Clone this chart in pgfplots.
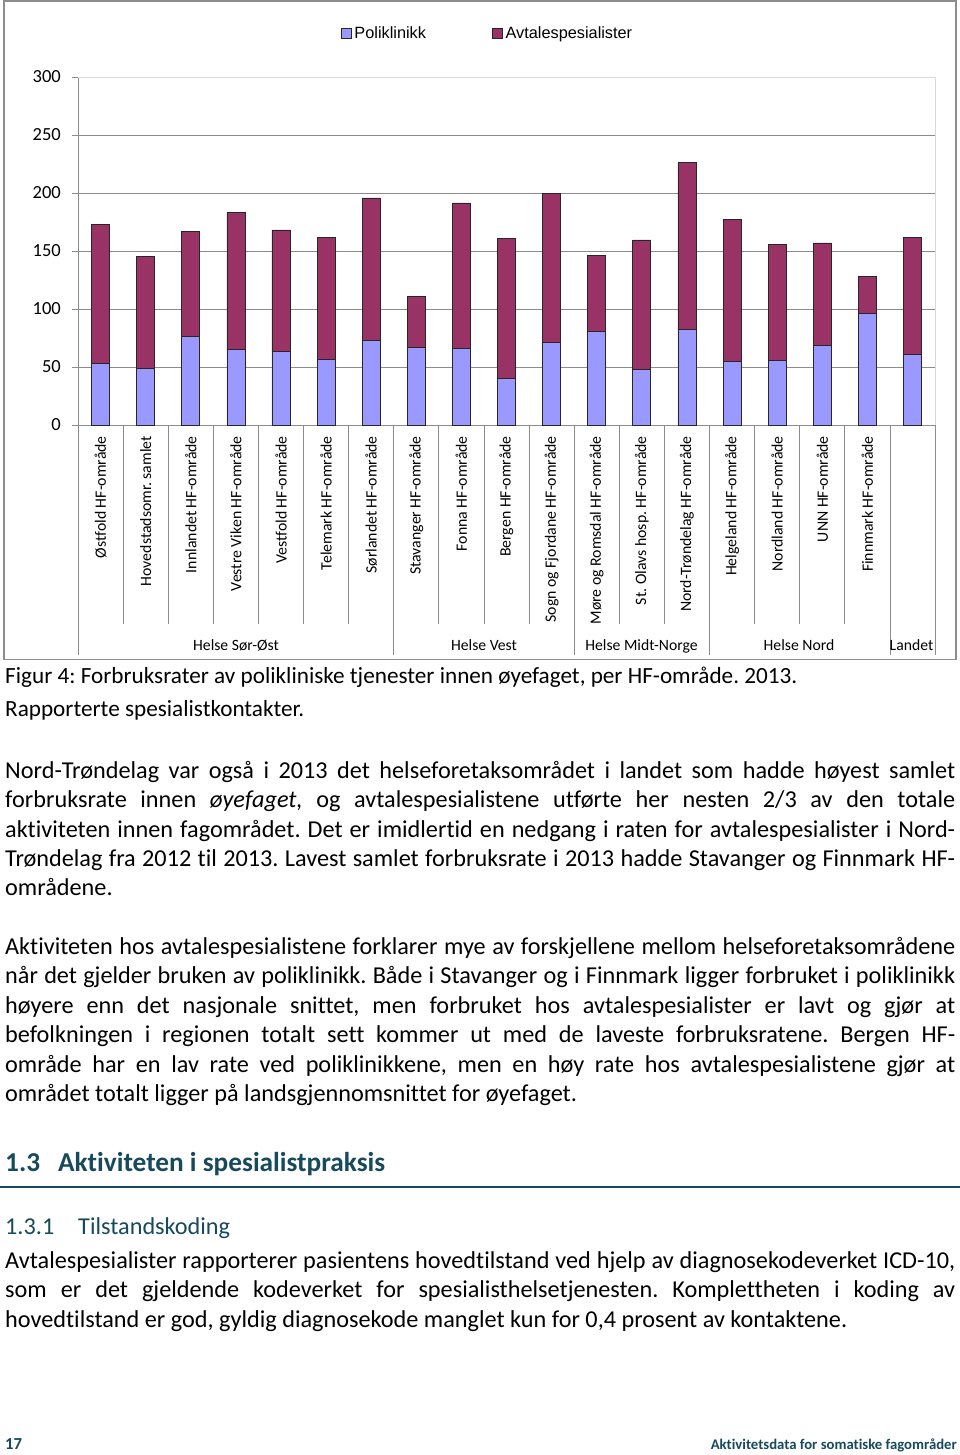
\documentclass[border=0pt]{standalone}
\usepackage{fontspec}
\setmainfont{Carlito}[Ligatures={NoCommon}]
\newfontfamily\arial{Liberation Sans}
\usepackage{pgfplots}
\pgfplotsset{compat=1.18}
\definecolor{poli}{HTML}{9999FF}
\definecolor{avt}{HTML}{993366}
\definecolor{headc}{HTML}{174A5C}
\definecolor{gridc}{HTML}{8C8C8C}
\newlength\tmpw
\newcommand\fitsize[3]{\settowidth\tmpw{#2\fontsize{10}{12}\selectfont #3}\pgfmathsetmacro\fsz{10*#1/\tmpw}}
\pgfplotstableread{
x poli avt
0 53.1 119.5
1 49.1 96.2
2 76.4 90.7
3 64.9 118.0
4 63.5 104.7
5 56.6 104.8
6 72.9 122.9
7 67.2 43.9
8 66.0 125.5
9 40.2 120.9
10 71.5 128.3
11 81.0 64.9
12 48.2 111.4
13 82.4 143.6
14 54.5 122.4
15 56.0 99.9
16 68.9 88.1
17 95.9 32.4
18 60.9 101.0
}\datatable
\begin{document}%
\frenchspacing%
\fitsize{842}{}{hovedtilstand er god, gyldig diagnosekode manglet kun for 0,4 prosent av kontaktene.}\let\bodysz\fsz%
\fitsize{792}{}{Figur 4: Forbruksrater av polikliniske tjenester innen øyefaget, per HF-område. 2013.}\let\capsz\fsz%
\fitsize{327}{\bfseries}{Aktiviteten i spesialistpraksis}\let\hsz\fsz%
\fitsize{152}{}{Tilstandskoding}\let\hhsz\fsz%
\fitsize{246}{\bfseries}{Aktivitetsdata for somatiske fagområder}\let\footsz\fsz%
\fitsize{17}{\bfseries}{17}\let\pagesz\fsz%
\newcommand\bodyfont{\fontsize{\bodysz}{\bodysz}\selectfont}%
\newcommand\capfont{\fontsize{\capsz}{\capsz}\selectfont}%
\newcommand\jline[2]{\node[font=\bodyfont,anchor=mid west,inner sep=0pt] at (5pt,-#1pt-6pt) {\makebox[950pt][s]{#2}};}%
\newcommand\lline[2]{\node[font=\bodyfont,anchor=mid west,inner sep=0pt] at (5pt,-#1pt-6pt) {#2};}%
\begin{tikzpicture}
\useasboundingbox (0pt,0pt) rectangle (960pt,-1455pt);
\fill[white] (0pt,0pt) rectangle (960pt,-1455pt);
\draw[gridc,line width=1.2pt] (4pt,-1pt) rectangle (956pt,-659.5pt);
\begin{axis}[
  at={(78pt,-425pt)}, anchor=south west,
  scale only axis, width=857pt, height=348pt,
  ybar stacked, bar width=18pt,
  xmin=-0.5, xmax=18.5, ymin=0, ymax=300,
  xtick={0,...,18},
  xticklabels={{Østfold HF-område},{Hovedstadsomr. samlet},{Innlandet HF-område},{Vestre Viken HF-område},{Vestfold HF-område},{Telemark HF-område},{Sørlandet HF-område},{Stavanger HF-område},{Fonna HF-område},{Bergen HF-område},{Sogn og Fjordane HF-område},{Møre og Romsdal HF-område},{St. Olavs hosp. HF-område},{Nord-Trøndelag HF-område},{Helgeland HF-område},{Nordland HF-område},{UNN HF-område},{Finnmark HF-område},{}},
  x tick style={draw=none},
  xticklabel style={rotate=90, anchor=east, inner sep=0pt, font=\fontsize{15.8}{16}\selectfont},
  xticklabel shift=5pt,
  ytick={0,50,...,250},
  extra y ticks={300},
  extra y tick style={grid style={draw=black!15, line width=1pt}},
  ymajorgrids,
  grid style={draw=gridc, line width=0.8pt},
  axis lines*=left,
  axis line style={draw=gridc, line width=0.8pt},
  y tick style={draw=gridc, line width=0.8pt},
  tick align=outside, major tick length=6pt,
  yticklabel style={inner sep=0pt, font=\fontsize{18.5}{18.5}\selectfont},
  yticklabel shift=11pt,
  /pgf/number format/assume math mode=true,
  clip=false,
  legend columns=2,
  legend style={at={(axis description cs:0.4767,1.1264)}, anchor=center, draw=none, fill=none, inner sep=0pt,
     font=\arial\fontsize{16.3}{17}\selectfont, nodes={inner sep=0pt},
     /tikz/every odd column/.append style={column sep=3pt},
     /tikz/every even column/.append style={column sep=66pt}},
  legend image code/.code={\draw[#1,line width=0.6pt] (0pt,-5pt) rectangle (10pt,5pt);},
]
\addplot[fill=poli, draw=black!85, line width=0.7pt] table[x=x,y=poli] {\datatable};
\addplot[fill=avt, draw=black!85, line width=0.7pt] table[x=x,y=avt] {\datatable};
\legend{Poliklinikk,Avtalespesialister}
\end{axis}
\draw[black!15,line width=1pt] (935pt,-77pt) -- (935pt,-425pt);
\foreach \k in {1,2,3,4,5,6,8,9,10,12,13,15,16,17}
  \draw[gridc,line width=0.8pt] (78pt+\k*45.105pt,-425pt) -- ++(0pt,-199pt);
\foreach \k in {0,7,11,14,18,19}
  \draw[gridc,line width=0.8pt] (78pt+\k*45.105pt,-425pt) -- ++(0pt,-230pt);
\begin{scope}[every node/.style={font=\fontsize{15.7}{16}\selectfont,anchor=mid,inner sep=0pt}]
\node at (236pt,-648pt) {Helse Sør-Øst};
\node at (484pt,-648pt) {Helse Vest};
\node at (641.5pt,-648pt) {Helse Midt-Norge};
\node at (799pt,-648pt) {Helse Nord};
\node at (911.5pt,-648pt) {Landet};
\end{scope}
\node[font=\capfont,anchor=mid west,inner sep=0pt] at (5pt,-681pt) {Figur 4: Forbruksrater av polikliniske tjenester innen øyefaget, per HF-område. 2013.};
\node[font=\capfont,anchor=mid west,inner sep=0pt] at (5pt,-714pt) {Rapporterte spesialistkontakter.};
\jline{770}{Nord-Trøndelag var også i 2013 det helseforetaksområdet i landet som hadde høyest samlet}
\jline{799.4}{forbruksrate innen \textit{øyefaget,} og avtalespesialistene utførte her nesten 2/3 av den totale}
\jline{828.8}{aktiviteten innen fagområdet. Det er imidlertid en nedgang i raten for avtalespesialister i Nord-}
\jline{858.2}{Trøndelag fra 2012 til 2013. Lavest samlet forbruksrate i 2013 hadde Stavanger og Finnmark HF-}
\lline{887.6}{områdene.}
\jline{946}{Aktiviteten hos avtalespesialistene forklarer mye av forskjellene mellom helseforetaksområdene}
\jline{975.4}{når det gjelder bruken av poliklinikk. Både i Stavanger og i Finnmark ligger forbruket i poliklinikk}
\jline{1004.8}{høyere enn det nasjonale snittet, men forbruket hos avtalespesialister er lavt og gjør at}
\jline{1034.2}{befolkningen i regionen totalt sett kommer ut med de laveste forbruksratene. Bergen HF-}
\jline{1063.6}{område har en lav rate ved poliklinikkene, men en høy rate hos avtalespesialistene gjør at}
\lline{1093}{området totalt ligger på landsgjennomsnittet for øyefaget.}
\node[font=\bfseries\fontsize{\hsz}{\hsz}\selectfont,text=headc,anchor=mid west,inner sep=0pt] at (5pt,-1169pt) {1.3};
\node[font=\bfseries\fontsize{\hsz}{\hsz}\selectfont,text=headc,anchor=mid west,inner sep=0pt] at (58pt,-1169pt) {Aktiviteten i spesialistpraksis};
\draw[headc,line width=1.4pt] (0pt,-1187pt) -- (960pt,-1187pt);
\node[font=\fontsize{\hhsz}{\hhsz}\selectfont,text=headc,anchor=mid west,inner sep=0pt] at (5pt,-1232pt) {1.3.1};
\node[font=\fontsize{\hhsz}{\hhsz}\selectfont,text=headc,anchor=mid west,inner sep=0pt] at (78pt,-1232pt) {Tilstandskoding};
\jline{1260}{Avtalespesialister rapporterer pasientens hovedtilstand ved hjelp av diagnosekodeverket ICD-10,}
\jline{1289.4}{som er det gjeldende kodeverket for spesialisthelsetjenesten. Komplettheten i koding av}
\lline{1318.8}{hovedtilstand er god, gyldig diagnosekode manglet kun for 0,4 prosent av kontaktene.}
\node[font=\bfseries\fontsize{\pagesz}{\pagesz}\selectfont,text=headc,anchor=mid west,inner sep=0pt] at (5pt,-1447pt) {17};
\node[font=\bfseries\fontsize{\footsz}{\footsz}\selectfont,text=headc,anchor=mid east,inner sep=0pt] at (957pt,-1447pt) {Aktivitetsdata for somatiske fagområder};
\end{tikzpicture}%
\end{document}
